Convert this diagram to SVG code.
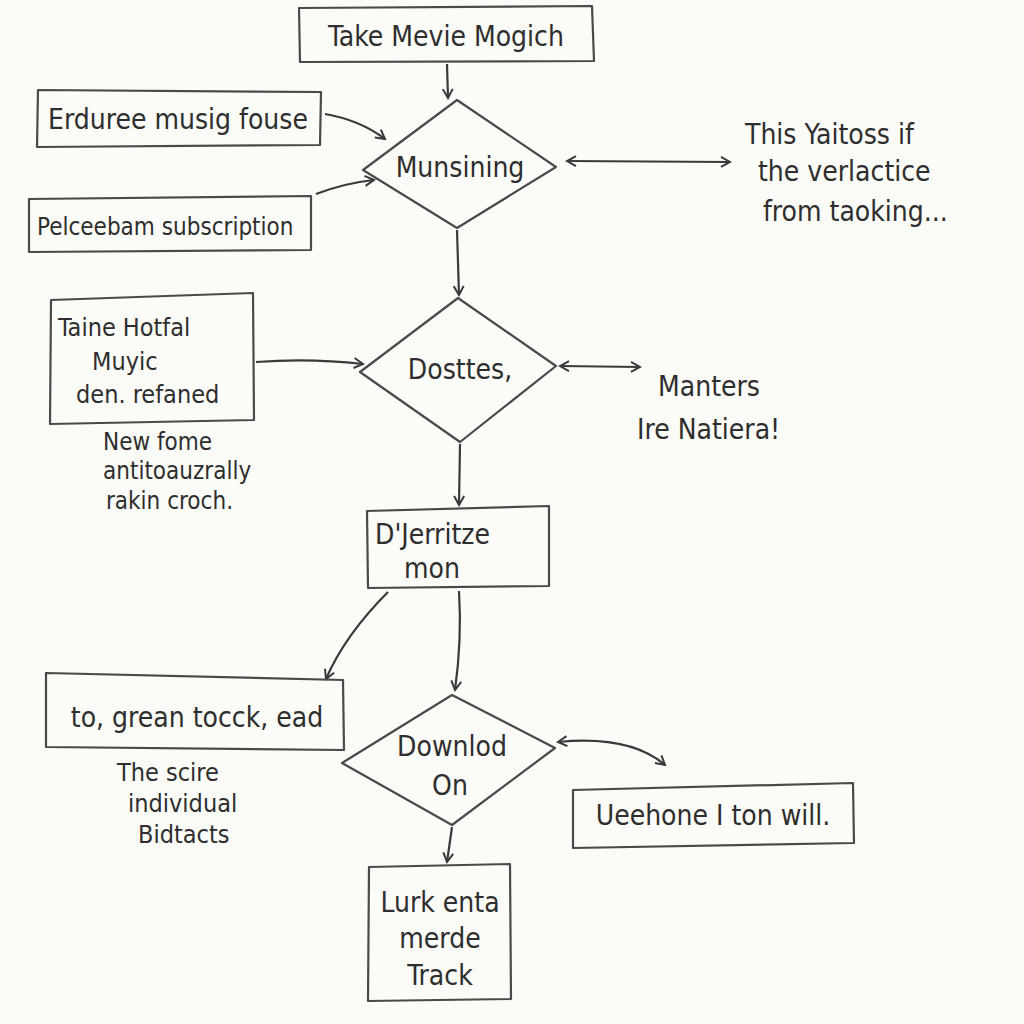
<svg xmlns="http://www.w3.org/2000/svg" width="1024" height="1024" viewBox="0 0 1024 1024">
<defs>
<style>
.bg{fill:#fbfbf7}
.shape{fill:none;stroke:#4a4a4a;stroke-width:2.2;stroke-linejoin:round}
.conn{fill:none;stroke:#3a3a3a;stroke-width:2.2}
.t{font-family:"DejaVu Sans Condensed","Liberation Sans Narrow","Liberation Sans",sans-serif;font-size:28px;fill:#2e2e2e}
.s{font-size:25px}
.xs{font-size:24px}
.m{text-anchor:middle}
</style>
<marker id="ah" viewBox="0 0 12 12" refX="10" refY="6" markerWidth="12" markerHeight="12" markerUnits="userSpaceOnUse" orient="auto-start-reverse">
<path d="M1,1 L10,6 L1,11" fill="none" stroke="#3a3a3a" stroke-width="2"/>
</marker>
</defs>
<rect class="bg" x="0" y="0" width="1024" height="1024"/>

<g id="connectors">
<path class="conn" d="M447,64 L448,98" marker-end="url(#ah)"/>
<path class="conn" d="M325,114 Q360,120 385,139" marker-end="url(#ah)"/>
<path class="conn" d="M316,194 Q345,183 374,180" marker-end="url(#ah)"/>
<path class="conn" d="M567,161 L730,162" marker-start="url(#ah)" marker-end="url(#ah)"/>
<path class="conn" d="M457,230 L459,295" marker-end="url(#ah)"/>
<path class="conn" d="M256,362 Q310,358 363,364" marker-end="url(#ah)"/>
<path class="conn" d="M560,366 L640,367" marker-start="url(#ah)" marker-end="url(#ah)"/>
<path class="conn" d="M460,444 L459,505" marker-end="url(#ah)"/>
<path class="conn" d="M388,592 Q345,635 326,679" marker-end="url(#ah)"/>
<path class="conn" d="M459,591 Q462,640 455,690" marker-end="url(#ah)"/>
<path class="conn" d="M558,742 Q630,735 665,765" marker-start="url(#ah)" marker-end="url(#ah)"/>
<path class="conn" d="M452,827 L447,862" marker-end="url(#ah)"/>
</g>

<g id="n-take">
<path class="shape" d="M299,8 L592,6 L594,61 L300,62 Z"/>
<text class="t m" x="446" y="46">Take Mevie Mogich</text>
</g>
<g id="n-erduree">
<path class="shape" d="M38,90 L321,92 L320,145 L37,147 Z"/>
<text class="t" x="48" y="129">Erduree musig fouse</text>
</g>
<g id="n-pelceebam">
<path class="shape" d="M29,199 L311,196 L311,250 L29,252 Z"/>
<text class="t xs" x="37" y="235">Pelceebam subscription</text>
</g>
<g id="n-munsining">
<path class="shape" d="M457,100 L556,167 L457,228 L363,170 Z"/>
<text class="t m" x="460" y="177">Munsining</text>
</g>
<g id="n-this">
<text class="t" x="745" y="144">This Yaitoss if</text>
<text class="t" x="758" y="181">the verlactice</text>
<text class="t" x="763" y="221">from taoking...</text>
</g>
<g id="n-taine">
<path class="shape" d="M51,300 L253,293 L254,420 L50,424 Z"/>
<text class="t s" x="58" y="336">Taine Hotfal</text>
<text class="t s" x="92" y="370">Muyic</text>
<text class="t s" x="76" y="403">den. refaned</text>
</g>
<g id="n-newfome">
<text class="t xs" x="103" y="450">New fome</text>
<text class="t xs" x="103" y="479">antitoauzrally</text>
<text class="t xs" x="106" y="509">rakin croch.</text>
</g>
<g id="n-dosttes">
<path class="shape" d="M458,298 L556,366 L460,442 L360,372 Z"/>
<text class="t m" x="460" y="379">Dosttes,</text>
</g>
<g id="n-manters">
<text class="t" x="658" y="396">Manters</text>
<text class="t" x="637" y="439">Ire Natiera!</text>
</g>
<g id="n-djerritze">
<path class="shape" d="M367,511 L549,506 L549,586 L368,588 Z"/>
<text class="t" x="375" y="544">D'Jerritze</text>
<text class="t m" x="432" y="578">mon</text>
</g>
<g id="n-grean">
<path class="shape" d="M46,673 L343,680 L344,750 L46,747 Z"/>
<text class="t m" x="197" y="727">to, grean tocck, ead</text>
</g>
<g id="n-scire">
<text class="t s" x="117" y="781">The scire</text>
<text class="t s" x="128" y="812">individual</text>
<text class="t s" x="138" y="843">Bidtacts</text>
</g>
<g id="n-downlod">
<path class="shape" d="M452,695 L555,748 L452,825 L342,763 Z"/>
<text class="t m" x="452" y="756">Downlod</text>
<text class="t m" x="450" y="795">On</text>
</g>
<g id="n-ueehone">
<path class="shape" d="M573,790 L853,783 L854,843 L573,848 Z"/>
<text class="t m" x="713" y="825">Ueehone I ton will.</text>
</g>
<g id="n-lurk">
<path class="shape" d="M369,867 L510,864 L511,999 L368,1001 Z"/>
<text class="t m" x="440" y="912">Lurk enta</text>
<text class="t m" x="440" y="948">merde</text>
<text class="t m" x="440" y="985">Track</text>
</g>
</svg>
